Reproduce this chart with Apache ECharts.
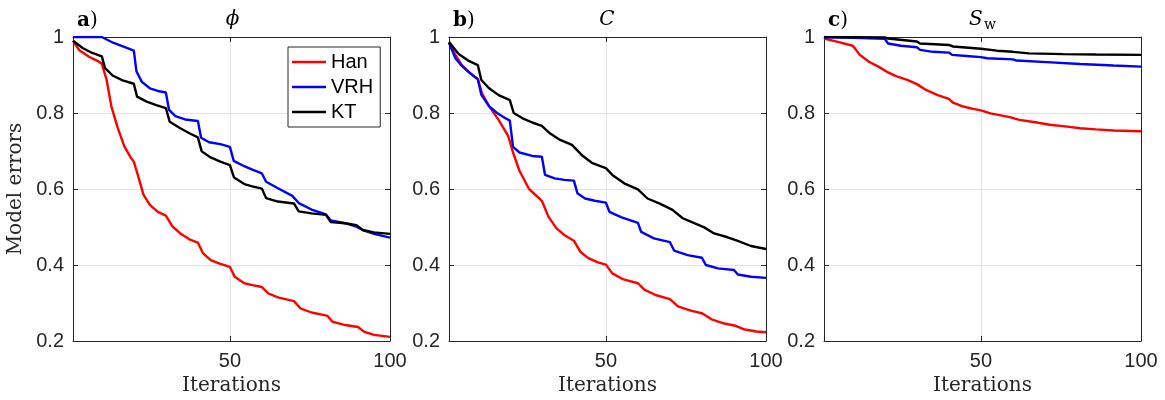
<!DOCTYPE html>
<html><head><meta charset="utf-8">
<script src="https://cdn.jsdelivr.net/npm/echarts@6/dist/echarts.min.js"></script>
<style>html,body{margin:0;padding:0;background:#fff}#c{width:1165px;height:400px}</style>
</head><body><div id="c"></div><script>
// ---- data (iteration, model error) ----
const seriesNames = ['Han', 'VRH', 'KT'];
const panelTitles = ['\u03D5', 'C', 'S'];
const panelLetters = ['a', 'b', 'c'];
const xTickValues = [50, 100];
const yTickValues = [0.2, 0.4, 0.6, 0.8, 1];

const phiHan = [[1,0.99],[3,0.965],[6,0.948],[8,0.94],[10,0.93],[11.5,0.887],[13,0.817],[15,0.76],[17,0.713],[19,0.683],[20,0.672],[21.3,0.635],[23,0.585],[25,0.558],[27.5,0.54],[30,0.53],[32,0.502],[34.5,0.483],[37.5,0.467],[40,0.459],[41.5,0.432],[44,0.413],[47,0.403],[50,0.395],[51.5,0.369],[54.5,0.352],[57,0.347],[60,0.342],[62,0.325],[65,0.315],[68,0.309],[70,0.305],[72,0.286],[75.5,0.275],[79.5,0.268],[80.5,0.266],[82,0.251],[86,0.242],[90,0.237],[92,0.224],[95,0.216],[100,0.211]];
const phiVRH = [[1,1.0],[10,1.0],[13.5,0.985],[17,0.974],[20,0.964],[20.8,0.91],[22.5,0.882],[25,0.865],[27.5,0.858],[30,0.854],[31,0.808],[33,0.792],[36,0.783],[40,0.779],[41,0.735],[43.5,0.723],[47,0.718],[50,0.711],[51.2,0.674],[54.5,0.66],[57,0.651],[60,0.641],[61.3,0.619],[65,0.602],[69.5,0.582],[71.5,0.563],[75.5,0.546],[80,0.533],[81.5,0.517],[86,0.51],[89.5,0.501],[91.5,0.492],[95,0.482],[100,0.472]];
const phiKT = [[1,0.99],[4,0.971],[7,0.958],[10,0.949],[11,0.918],[13.5,0.898],[16.5,0.886],[20,0.877],[21,0.843],[24,0.83],[27,0.821],[30,0.813],[31.2,0.777],[34.5,0.76],[37.5,0.746],[40,0.736],[41.2,0.699],[44,0.683],[47,0.672],[50,0.663],[51.3,0.63],[54.5,0.613],[57,0.607],[60,0.601],[61.3,0.576],[65,0.567],[70,0.562],[71.5,0.541],[75.5,0.536],[80,0.532],[81.5,0.513],[86,0.51],[89.5,0.505],[91.5,0.492],[95,0.486],[100,0.482]];

const cHan = [[1,0.985],[3,0.953],[5,0.926],[7.5,0.906],[10,0.889],[11.3,0.852],[13.5,0.818],[16.5,0.782],[19.5,0.739],[21,0.696],[23,0.648],[26,0.6],[30,0.569],[32,0.528],[34.5,0.497],[37,0.479],[40,0.464],[42,0.435],[44.5,0.418],[47.5,0.407],[50,0.401],[52,0.378],[55.5,0.362],[60,0.352],[62,0.335],[65.5,0.321],[70,0.31],[72.5,0.291],[76.5,0.28],[80,0.273],[83,0.257],[87,0.246],[90.5,0.24],[93,0.231],[97,0.225],[100,0.223]];
const cVRH = [[1,0.985],[3,0.944],[5,0.924],[7.5,0.905],[10,0.889],[11.1,0.848],[13.5,0.818],[16,0.8],[18.5,0.787],[20,0.78],[21,0.711],[23,0.696],[27,0.687],[30,0.685],[31,0.637],[34,0.628],[37,0.624],[40,0.622],[41.1,0.589],[43.5,0.575],[46.5,0.569],[50,0.564],[51.1,0.54],[54.7,0.526],[60,0.511],[61,0.487],[65,0.47],[70,0.46],[71.3,0.438],[75.5,0.426],[80,0.419],[81.2,0.4],[85,0.391],[90,0.387],[91.2,0.375],[95.3,0.369],[100,0.366]];
const cKT = [[1,0.987],[4,0.955],[7,0.938],[10,0.926],[11.1,0.887],[13.5,0.865],[16.5,0.847],[20,0.834],[21.2,0.8],[24,0.786],[27,0.775],[30,0.766],[32.6,0.746],[35.7,0.729],[39.4,0.716],[42.5,0.689],[45.6,0.669],[48.7,0.659],[50,0.655],[52,0.637],[55.7,0.615],[60,0.599],[63,0.575],[67,0.561],[70.8,0.545],[74,0.523],[77.6,0.51],[80.7,0.499],[83.8,0.483],[88,0.473],[91,0.464],[95.3,0.45],[100,0.442]];

const swHan = [[1,0.996],[5,0.988],[10,0.977],[12.2,0.953],[15,0.935],[18,0.922],[20.5,0.909],[23.5,0.897],[27,0.887],[30,0.876],[33,0.86],[36.5,0.847],[40,0.837],[41.3,0.827],[44.5,0.817],[47.5,0.811],[50,0.807],[53,0.799],[59,0.789],[62,0.782],[67.5,0.775],[71.5,0.769],[77,0.764],[81,0.76],[86,0.757],[91.5,0.754],[100,0.752]];
const swVRH = [[1,0.999],[10,0.998],[20,0.995],[21,0.983],[25,0.977],[30,0.973],[31,0.966],[35,0.961],[40,0.959],[41,0.953],[45.5,0.95],[50,0.947],[52,0.944],[60,0.941],[61.2,0.938],[70.5,0.934],[81,0.929],[91.4,0.925],[100,0.922]];
const swKT = [[1,1.0],[20,0.999],[21,0.996],[30,0.988],[31,0.983],[40,0.979],[41.3,0.975],[50,0.969],[55,0.964],[60,0.961],[65,0.957],[75.7,0.955],[86,0.954],[100,0.953]];

const panelData = [[phiHan, phiVRH, phiKT], [cHan, cVRH, cKT], [swHan, swVRH, swKT]];
const colors = ['#ff0000', '#0000ff', '#000000'];

// ---- layout ----
const gridLefts = [73, 449, 824];
const gridTop = 37, gridW = 317, gridH = 304;
const axisColor = '#262626';
const tickFont = {fontSize: 20, fontFamily: 'Liberation Sans, Arial, sans-serif', color: axisColor};

const chart = echarts.init(document.getElementById('c'), null, {renderer: 'canvas'});

const grids = gridLefts.map(l => ({left: l, top: gridTop, width: gridW, height: gridH, containLabel: false, outerBoundsMode: 'none'}));
const xAxes = [], yAxes = [];
gridLefts.forEach((l, i) => {
  xAxes.push({type: 'value', gridIndex: i, min: 1, max: 100, position: 'bottom',
    axisLine: {show: true, lineStyle: {color: axisColor, width: 1}},
    axisTick: {show: true, inside: true, length: 5, customValues: xTickValues, lineStyle: {color: axisColor}},
    axisLabel: Object.assign({show: true, customValues: xTickValues, margin: 10, showMinLabel: true, showMaxLabel: true}, tickFont),
    splitLine: {show: true, lineStyle: {color: '#e3e3e3', width: 1}}});
  yAxes.push({type: 'value', gridIndex: i, min: 0.2, max: 1, interval: 0.2, position: 'left',
    axisLine: {show: true, lineStyle: {color: axisColor, width: 1}},
    axisTick: {show: true, inside: true, length: 5, lineStyle: {color: axisColor}},
    axisLabel: Object.assign({show: true, margin: 9, formatter: v => String(+v.toFixed(1))}, tickFont),
    splitLine: {show: true, lineStyle: {color: '#e3e3e3', width: 1}}});
});
gridLefts.forEach((l, i) => {
  xAxes.push({type: 'value', gridIndex: i, min: 1, max: 100, position: 'top',
    axisLine: {show: true, onZero: false, lineStyle: {color: axisColor, width: 1}},
    axisTick: {show: true, inside: true, length: 5, customValues: [50], lineStyle: {color: axisColor}},
    axisLabel: {show: false}, splitLine: {show: false}});
  yAxes.push({type: 'value', gridIndex: i, min: 0.2, max: 1, interval: 0.2, position: 'right',
    axisLine: {show: true, onZero: false, lineStyle: {color: axisColor, width: 1}},
    axisTick: {show: true, inside: true, length: 5, lineStyle: {color: axisColor}},
    axisLabel: {show: false}, splitLine: {show: false}});
});

const series = [];
panelData.forEach((set, i) => {
  set.forEach((d, k) => {
    series.push({type: 'line', name: seriesNames[k], xAxisIndex: i, yAxisIndex: i, data: d,
      symbol: 'none', showSymbol: false, smooth: false, animation: false,
      lineStyle: {color: colors[k], width: 2.4}, itemStyle: {color: colors[k]}, z: 3 + k});
  });
});

const serif = 'DejaVu Serif, serif';
const graphics = [];
gridLefts.forEach((l, i) => {
  const cx = l + gridW / 2;
  graphics.push({type: 'text', style: {text: '{b|' + panelLetters[i] + '})', x: l + 4, y: 21, verticalAlign: 'middle',
    font: '20px ' + serif, fill: '#000', rich: {b: {fontWeight: 'bold', fontSize: 20, fontFamily: serif, fill: '#000'}}}});
  graphics.push({type: 'text', style: {text: 'Iterations', x: cx, y: 386, align: 'center', verticalAlign: 'middle',
    font: '20px ' + serif, fill: axisColor}});
});
graphics.push({type: 'text', style: {text: panelTitles[0], x: 232.5, y: 20, align: 'center', verticalAlign: 'middle', font: 'italic 20px ' + serif, fill: '#000'}});
graphics.push({type: 'text', style: {text: panelTitles[1], x: 607, y: 20, align: 'center', verticalAlign: 'middle', font: 'italic 20px ' + serif, fill: '#000'}});
graphics.push({type: 'text', style: {text: panelTitles[2], x: 969, y: 20, align: 'left', verticalAlign: 'middle', font: 'italic 20px ' + serif, fill: '#000'}});
graphics.push({type: 'text', style: {text: 'w', x: 984, y: 25, align: 'left', verticalAlign: 'middle', font: '14px ' + serif, fill: '#000'}});
graphics.push({type: 'text', x: 16, y: 189, rotation: Math.PI / 2, style: {text: 'Model errors', x: 0, y: 0, align: 'center', verticalAlign: 'middle', font: '20px ' + serif, fill: axisColor}});

chart.setOption({
  animation: false,
  backgroundColor: '#fff',
  grid: grids,
  xAxis: xAxes,
  yAxis: yAxes,
  legend: {show: true, left: 288, top: 47, orient: 'vertical', data: seriesNames,
    icon: 'rect', itemWidth: 34, itemHeight: 2.4, itemGap: 5, padding: [5, 7, 5, 4],
    borderColor: axisColor, borderWidth: 1, backgroundColor: '#fff', z: 10,
    textStyle: {fontSize: 20, fontFamily: 'Liberation Sans, Arial, sans-serif', color: '#000'}},
  series: series,
  graphic: graphics
});
</script></body></html>
